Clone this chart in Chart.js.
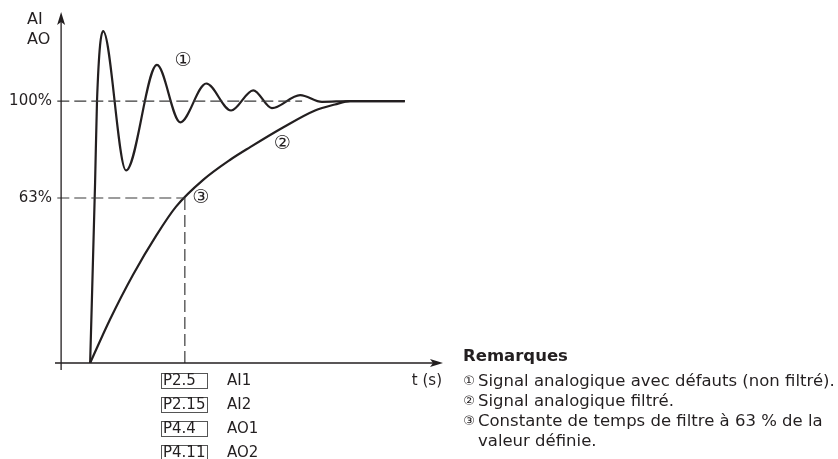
<!DOCTYPE html>
<html>
<head>
<meta charset="utf-8">
<script src="https://cdn.jsdelivr.net/npm/chart.js@4.4.1/dist/chart.umd.min.js"></script>
<style>
  html, body { margin: 0; padding: 0; background: #fff; }
  #wrap { position: relative; width: 838px; height: 459px; }
</style>
</head>
<body>
<div id="wrap"><canvas id="c" width="838" height="459"></canvas></div>
<script>
// signal ① (unfiltered, with overshoot)
const rawX = [0.76, 0.89, 0.94, 1.10, 1.70, 2.51, 3.12, 3.80, 4.45, 5.03, 5.52, 6.26, 6.83, 7.57, 9.0];
const rawY = [0, 69, 100, 126.7, 73.5, 113.8, 91.9, 106.7, 96.4, 104.1, 97.3, 102.3, 99.7, 100, 100];

// signal ② (filtered)
const filtX = [0.76, 1.28, 1.88, 2.51, 3.01, 3.72, 4.42, 4.95, 5.81, 6.65, 7.17, 7.57, 9.0];
const filtY = [0, 16.6, 33.6, 49.1, 59.7, 69.9, 77.5, 82.4, 89.9, 96.4, 98.7, 100, 100];

// reference levels (%) and time constant point ③
const yTicks = [63, 100];
const tauX = 3.24;
const setpointEndX = 6.31;

const paramCodes = ['P2.5', 'P2.15', 'P4.4', 'P4.11'];
const paramNames = ['AI1', 'AI2', 'AO1', 'AO2'];
const notes = [
  ['\u2460', 'Signal analogique avec défauts (non filtré).'],
  ['\u2461', 'Signal analogique filtré.'],
  ['\u2462', 'Constante de temps de filtre à 63 % de la'],
  ['', 'valeur définie.']
];

const ink = '#231f20';
const FONT = '"DejaVu Sans", "Noto Sans CJK JP", sans-serif';

const toPts = (xs, ys) => xs.map((x, i) => ({ x: x, y: ys[i] }));
const dashStyle = { borderColor: '#3a3a3a', borderWidth: 1.2, borderDash: [12, 5], pointRadius: 0, fill: false, tension: 0 };

const decor = {
  id: 'decor',
  afterDraw(chart) {
    const ctx = chart.ctx;
    const xs = chart.scales.x, ys = chart.scales.y;
    const x0 = xs.getPixelForValue(0), y0 = ys.getPixelForValue(0);
    const top = chart.chartArea.top, right = chart.chartArea.right;
    ctx.save();
    ctx.strokeStyle = ink; ctx.fillStyle = ink; ctx.lineWidth = 1.3;
    // axes
    ctx.beginPath();
    ctx.moveTo(x0, y0 + 7); ctx.lineTo(x0, top + 6);
    ctx.moveTo(chart.chartArea.left, y0); ctx.lineTo(right - 6, y0);
    ctx.stroke();
    // arrow heads
    ctx.beginPath();
    ctx.moveTo(x0, top); ctx.lineTo(x0 - 4, top + 13); ctx.lineTo(x0, top + 10); ctx.lineTo(x0 + 4, top + 13); ctx.closePath(); ctx.fill();
    ctx.beginPath();
    ctx.moveTo(right, y0); ctx.lineTo(right - 13, y0 - 4); ctx.lineTo(right - 10, y0); ctx.lineTo(right - 13, y0 + 4); ctx.closePath(); ctx.fill();

    // axis titles
    ctx.font = '16px ' + FONT; ctx.textBaseline = 'middle'; ctx.textAlign = 'left';
    ctx.fillText('AI', 27, 20);
    ctx.fillText('AO', 27, 40);
    ctx.font = '15px ' + FONT; ctx.textAlign = 'right';
    ctx.fillText('t (s)', 442, 381);

    // circled markers on the curves
    ctx.textAlign = 'center';
    ctx.font = '19px ' + FONT;
    ctx.fillText('\u2460', xs.getPixelForValue(3.19), ys.getPixelForValue(115.4));
    ctx.fillText('\u2461', xs.getPixelForValue(5.79), ys.getPixelForValue(83.6));
    ctx.fillText('\u2462', xs.getPixelForValue(tauX + 0.42), ys.getPixelForValue(63));

    // parameter boxes
    ctx.font = '15px ' + FONT; ctx.textAlign = 'left'; ctx.lineWidth = 1;
    ctx.strokeStyle = '#555';
    paramCodes.forEach((p, i) => {
      const cy = 381 + i * 24;
      ctx.strokeRect(161.5, cy - 7.5, 46, 15);
      ctx.fillText(p, 163, cy);
      ctx.fillText(paramNames[i], 227, cy);
    });

    // remarks
    ctx.font = 'bold 16.5px ' + FONT;
    ctx.fillText('Remarques', 463, 357);
    notes.forEach((n, i) => {
      const cy = 382 + i * 20;
      if (n[0]) {
        ctx.font = '13px ' + FONT; ctx.textAlign = 'center';
        ctx.fillText(n[0], 469, cy);
      }
      ctx.font = '16.5px ' + FONT; ctx.textAlign = 'left';
      ctx.fillText(n[1], 478, cy);
    });
    ctx.restore();
  }
};

new Chart(document.getElementById('c'), {
  type: 'line',
  data: {
    datasets: [
      Object.assign({ data: [{ x: -0.1, y: 100 }, { x: setpointEndX, y: 100 }] }, dashStyle),
      Object.assign({ data: [{ x: -0.1, y: 63 }, { x: tauX, y: 63 }] }, dashStyle),
      Object.assign({ data: [{ x: tauX, y: 63 }, { x: tauX, y: 0 }] }, dashStyle),
      { label: '1', data: toPts(rawX, rawY), borderColor: ink, borderWidth: 2.2, pointRadius: 0, cubicInterpolationMode: 'monotone', fill: false },
      { label: '2', data: toPts(filtX, filtY), borderColor: ink, borderWidth: 2.2, pointRadius: 0, cubicInterpolationMode: 'monotone', fill: false }
    ]
  },
  options: {
    responsive: false,
    animation: false,
    devicePixelRatio: 1,
    layout: { padding: { left: 0, top: 9, right: 395, bottom: 96 } },
    plugins: { legend: { display: false }, tooltip: { enabled: false } },
    scales: {
      x: { type: 'linear', min: -0.16, max: 10, display: false },
      y: {
        type: 'linear', min: 0, max: 134,
        grid: { display: false, drawTicks: false }, border: { display: false },
        afterFit(scale) { scale.width = 55; },
        afterBuildTicks(scale) { scale.ticks = yTicks.map(v => ({ value: v })); },
        ticks: { padding: 3, color: ink, font: { family: FONT, size: 15 }, callback: v => v + '%' }
      }
    }
  },
  plugins: [decor]
});
</script>
</body>
</html>
